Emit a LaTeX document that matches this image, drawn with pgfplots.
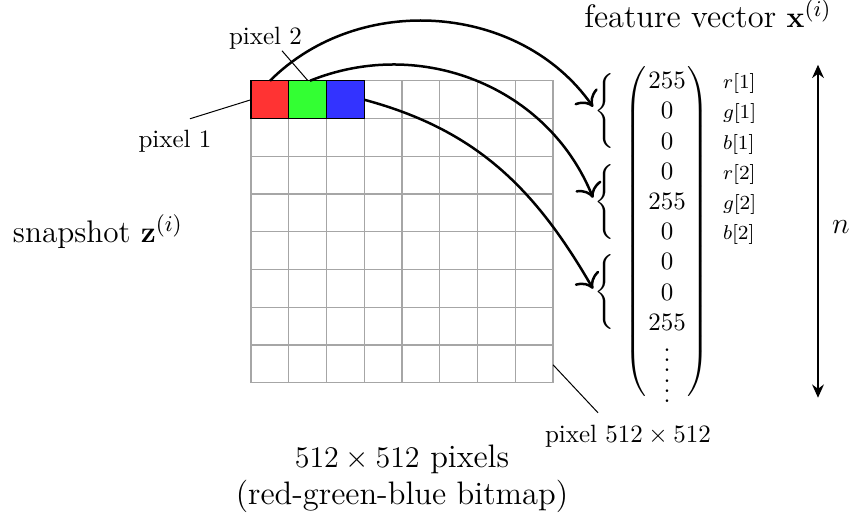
\documentclass[border=0pt]{standalone}
\usepackage{pgfplots}
\pgfplotsset{compat=1.18}
\usetikzlibrary{arrows.meta}
\newcommand{\bigtxt}{\fontsize{13}{15.6}\selectfont}
\newcommand{\midtxt}{\fontsize{12.5}{15}\selectfont}
\newcommand{\smtxt}{\fontsize{8.5}{10}\selectfont}
\begin{document}
\begin{tikzpicture}[lbl/.style={inner sep=0pt, outer sep=0pt}]
\begin{axis}[
  scale only axis,
  width=120.8pt, height=120.8pt,
  xmin=251, xmax=553, ymin=-380, ymax=-78,
  xtick={251,288.75,326.5,364.25,402,439.75,477.5,515.25,553},
  ytick={-380,-342.25,-304.5,-266.75,-229,-191.25,-153.5,-115.75,-78},
  xticklabels={}, yticklabels={},
  major tick length=0pt,
  grid=major,
  major grid style={draw=gray!70, line width=0.5pt},
  axis line style={draw=gray!70, line width=0.5pt},
  clip=false,
]
% the three coloured pixels
\addplot[fill=red!80, draw=black, line width=0.5pt, mark=none] coordinates {(251,-115.75) (288.75,-115.75) (288.75,-78) (251,-78)} -- cycle;
\addplot[fill=green!80, draw=black, line width=0.5pt, mark=none] coordinates {(288.75,-115.75) (326.5,-115.75) (326.5,-78) (288.75,-78)} -- cycle;
\addplot[fill=blue!80, draw=black, line width=0.5pt, mark=none] coordinates {(326.5,-115.75) (364.25,-115.75) (364.25,-78) (326.5,-78)} -- cycle;

\path (axis cs:0,-512) rectangle (axis cs:851,0);

% labels round the bitmap
\node[lbl, anchor=base] at (axis cs:265.5,-41.5) {pixel 2};
\draw[line width=0.4pt] (axis cs:282,-48) -- (axis cs:308,-78);
\node[lbl, anchor=base] at (axis cs:175,-145) {pixel 1};
\draw[line width=0.4pt] (axis cs:190,-116) -- (axis cs:251,-97);
\node[lbl, anchor=base] at (axis cs:628,-440) {pixel $512\times512$};
\draw[line width=0.4pt] (axis cs:553,-362) -- (axis cs:598,-410);
\node[lbl, anchor=base] at (axis cs:98,-240) {\midtxt snapshot $\mathbf{z}^{(i)}$};
\node[lbl, anchor=base] at (axis cs:402,-465) {\bigtxt $512\times512$ pixels};
\node[lbl, anchor=base] at (axis cs:402,-502) {\bigtxt (red-green-blue bitmap)};
\node[lbl, anchor=base] at (axis cs:708,-25) {\bigtxt feature vector $\mathbf{x}^{(i)}$};
\node[lbl] at (axis cs:841,-224) {\midtxt $n$};

% feature vector
\node[lbl] at (axis cs:637,-228.5) {$\left(\vcenter{\hrule height 133pt width 0pt}\right.$};
\node[lbl] at (axis cs:697,-228.5) {$\left.\vcenter{\hrule height 133pt width 0pt}\right)$};
\node[lbl, anchor=base] at (axis cs:667,-86) {$255$};
\node[lbl, anchor=base] at (axis cs:667,-116.2) {$0$};
\node[lbl, anchor=base] at (axis cs:667,-146.4) {$0$};
\node[lbl, anchor=base] at (axis cs:667,-176.6) {$0$};
\node[lbl, anchor=base] at (axis cs:667,-206.8) {$255$};
\node[lbl, anchor=base] at (axis cs:667,-237) {$0$};
\node[lbl, anchor=base] at (axis cs:667,-267.2) {$0$};
\node[lbl, anchor=base] at (axis cs:667,-297.4) {$0$};
\node[lbl, anchor=base] at (axis cs:667,-327.6) {$255$};
\node[lbl, anchor=base] at (axis cs:667,-369) {$\vdots$};
\node[lbl, anchor=base] at (axis cs:667,-400) {$\vdots$};

\node[lbl, anchor=base west] at (axis cs:723,-86) {\smtxt $r[1]$};
\node[lbl, anchor=base west] at (axis cs:723,-116.2) {\smtxt $g[1]$};
\node[lbl, anchor=base west] at (axis cs:723,-146.4) {\smtxt $b[1]$};
\node[lbl, anchor=base west] at (axis cs:723,-176.6) {\smtxt $r[2]$};
\node[lbl, anchor=base west] at (axis cs:723,-206.8) {\smtxt $g[2]$};
\node[lbl, anchor=base west] at (axis cs:723,-237) {\smtxt $b[2]$};

% braces
\node[lbl] at (axis cs:606,-108) {$\left\{\vcenter{\hrule height 33pt width 0pt}\right.$};
\node[lbl] at (axis cs:606,-199) {$\left\{\vcenter{\hrule height 33pt width 0pt}\right.$};
\node[lbl] at (axis cs:606,-289) {$\left\{\vcenter{\hrule height 33pt width 0pt}\right.$};

% arrows (overlay: their control points must not widen the page)
\draw[overlay, line width=1pt, -{To[scale=1.4]}] (axis cs:270,-78) to[out=45,in=125] (axis cs:593,-104);
\draw[overlay, line width=1pt, -{To[scale=1.4]}] (axis cs:310,-78) to[out=22,in=112] (axis cs:593,-195);
\draw[overlay, line width=1pt, -{To[scale=1.4]}] (axis cs:364.25,-97) to[out=-15,in=120] (axis cs:593,-286);
\draw[line width=0.8pt, {Stealth[length=5.3pt,width=4.7pt]}-{Stealth[length=5.3pt,width=4.7pt]}] (axis cs:818,-62) -- (axis cs:818,-395);
\end{axis}
\end{tikzpicture}
\end{document}
